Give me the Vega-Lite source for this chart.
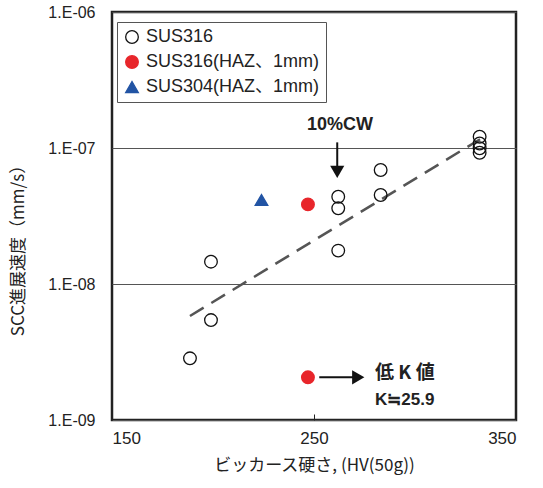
{
  "$schema": "https://vega.github.io/schema/vega-lite/v6.json",
  "width": 404,
  "height": 408,
  "autosize": {"type": "none"},
  "padding": {"left": 112, "top": 12, "right": 27, "bottom": 68},
  "background": "white",
  "datasets": {
    "pts": [
      {"hv": 188.6, "rate": 2.84e-9, "series": "SUS316"},
      {"hv": 199, "rate": 5.43e-9, "series": "SUS316"},
      {"hv": 199, "rate": 1.46e-8, "series": "SUS316"},
      {"hv": 262, "rate": 1.76e-8, "series": "SUS316"},
      {"hv": 262, "rate": 3.6e-8, "series": "SUS316"},
      {"hv": 262, "rate": 4.38e-8, "series": "SUS316"},
      {"hv": 283, "rate": 4.51e-8, "series": "SUS316"},
      {"hv": 283, "rate": 6.89e-8, "series": "SUS316"},
      {"hv": 332, "rate": 1.21e-7, "series": "SUS316"},
      {"hv": 332, "rate": 1.08e-7, "series": "SUS316"},
      {"hv": 332, "rate": 9.95e-8, "series": "SUS316"},
      {"hv": 332, "rate": 9.23e-8, "series": "SUS316"},
      {"hv": 247, "rate": 3.85e-8, "series": "SUS316(HAZ、1mm)"},
      {"hv": 247, "rate": 2.06e-9, "series": "SUS316(HAZ、1mm)"},
      {"hv": 224, "rate": 4.15e-8, "series": "SUS304(HAZ、1mm)"}
    ],
    "fit": [
      {"hv": 188.6, "rate": 5.82e-9},
      {"hv": 332.2, "rate": 1.16e-7}
    ],
    "arrows": [
      {"hv": 261.5, "rate": 1.1e-7, "hv2": 261.5, "rate2": 7.13e-8},
      {"hv": 252.6, "rate": 2.06e-9, "hv2": 270.3, "rate2": 2.06e-9}
    ],
    "headDown": [
      {"hv": 261.5, "rate": 6.67e-8}
    ],
    "headRight": [
      {"hv": 271.9, "rate": 2.06e-9}
    ],
    "labels": [
      {"hv": 262.9, "rate": 1.475e-7, "text": "10%CW", "kind": "cw"},
      {"hv": 280.2, "rate": 2.23e-9, "text": "低 K 値", "kind": "lowk"},
      {"hv": 280.2, "rate": 1.4e-9, "text": "K≒25.9", "kind": "k"}
    ]
  },
  "encoding": {
    "x": {
      "field": "hv", "type": "quantitative",
      "scale": {"domain": [150, 350], "nice": false, "zero": false},
      "axis": {
        "title": "ビッカース硬さ, (HV(50g))",
        "values": [150, 250, 350],
        "grid": false,
        "domain": false,
        "ticks": true,
        "tickSize": -6,
        "tickColor": "#222",
        "labelPadding": 16,
        "labelFont": "Liberation Sans",
        "labelFontSize": 17,
        "labelColor": "#222",
        "titleFont": "Noto Sans CJK JP",
        "titleFontSize": 17,
        "titleFontWeight": "normal",
        "titleColor": "#222",
        "titlePadding": 11
      }
    },
    "y": {
      "field": "rate", "type": "quantitative",
      "scale": {"type": "log", "domain": [1e-9, 1e-6], "nice": false},
      "axis": {
        "title": "SCC進展速度（mm/s）",
        "values": [1e-9, 1e-8, 1e-7, 1e-6],
        "labelExpr": "'1.E-0' + round(-log(datum.value)/LN10)",
        "grid": true,
        "gridColor": "#555",
        "gridWidth": 1,
        "domain": false,
        "ticks": false,
        "labelPadding": 17,
        "labelFont": "Liberation Sans",
        "labelFontSize": 16,
        "labelColor": "#222",
        "titleFont": "Noto Sans CJK JP",
        "titleFontSize": 17,
        "titleFontWeight": "normal",
        "titleColor": "#222",
        "titlePadding": 20,
        "titleY": 234
      }
    }
  },
  "layer": [
    {
      "data": {"name": "fit"},
      "mark": {"type": "line", "color": "#555", "strokeWidth": 2.5, "strokeDash": [16, 9]},
      "encoding": {}
    },
    {
      "data": {"name": "pts"},
      "mark": {"type": "point", "filled": true, "size": 160, "strokeWidth": 1.3, "opacity": 1},
      "encoding": {
        "shape": {
          "field": "series", "type": "nominal",
          "scale": {"domain": ["SUS316", "SUS316(HAZ、1mm)", "SUS304(HAZ、1mm)"], "range": ["circle", "circle", "triangle-up"]},
          "legend": {"title": null}
        },
        "fill": {
          "field": "series", "type": "nominal",
          "scale": {"domain": ["SUS316", "SUS316(HAZ、1mm)", "SUS304(HAZ、1mm)"], "range": ["transparent", "#e8262b", "#2254a4"]},
          "legend": {"title": null}
        },
        "stroke": {
          "field": "series", "type": "nominal",
          "scale": {"domain": ["SUS316", "SUS316(HAZ、1mm)", "SUS304(HAZ、1mm)"], "range": ["#111", "#e8262b", "#2254a4"]},
          "legend": {"title": null}
        }
      }
    },
    {
      "data": {"name": "arrows"},
      "mark": {"type": "rule", "color": "#111", "strokeWidth": 2},
      "encoding": {
        "x2": {"field": "hv2"},
        "y2": {"field": "rate2"}
      }
    },
    {
      "data": {"name": "headDown"},
      "mark": {"type": "point", "shape": "triangle-down", "filled": true, "color": "#111", "size": 200, "opacity": 1},
      "encoding": {}
    },
    {
      "data": {"name": "headRight"},
      "mark": {"type": "point", "shape": "triangle-right", "filled": true, "color": "#111", "size": 200, "opacity": 1},
      "encoding": {}
    },
    {
      "data": {"name": "labels"},
      "transform": [{"filter": "datum.kind == 'cw'"}],
      "mark": {"type": "text", "font": "Liberation Sans", "fontWeight": "bold", "fontSize": 18, "color": "#222", "align": "center", "baseline": "middle"},
      "encoding": {"text": {"field": "text"}}
    },
    {
      "data": {"name": "labels"},
      "transform": [{"filter": "datum.kind == 'lowk'"}],
      "mark": {"type": "text", "font": "Noto Sans CJK JP", "fontWeight": "bold", "fontSize": 19, "color": "#222", "align": "left", "baseline": "middle"},
      "encoding": {"text": {"field": "text"}}
    },
    {
      "data": {"name": "labels"},
      "transform": [{"filter": "datum.kind == 'k'"}],
      "mark": {"type": "text", "font": "Liberation Sans", "fontWeight": "bold", "fontSize": 17, "color": "#222", "align": "left", "baseline": "middle"},
      "encoding": {"text": {"field": "text"}}
    }
  ],
  "config": {
    "view": {"stroke": "#222", "strokeWidth": 2.5},
    "legend": {
      "orient": "none",
      "legendX": 5,
      "legendY": 10,
      "strokeColor": "#555",
      "strokeWidth": 1,
      "fillColor": "white",
      "padding": 6,
      "labelFont": "Liberation Sans, Noto Sans CJK JP",
      "labelFontSize": 18,
      "labelColor": "#222",
      "labelLimit": 300,
      "symbolSize": 160,
      "symbolStrokeWidth": 1.3,
      "rowPadding": 7,
      "labelOffset": 5
    }
  }
}
